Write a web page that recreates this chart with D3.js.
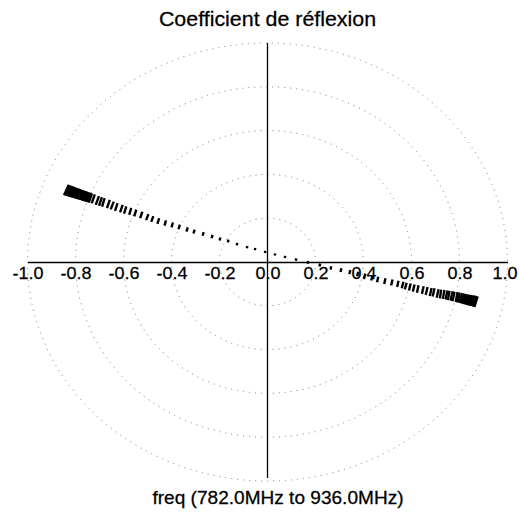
<!DOCTYPE html>
<html>
<head>
<meta charset="utf-8">
<script src="https://cdn.jsdelivr.net/npm/d3@7"></script>
<style>
  body { margin: 0; background: #fff; }
  text { font-family: "Liberation Sans", Arial, sans-serif; }
</style>
</head>
<body>
<div id="content"></div>
<script>
var gammaRe = [-0.838,-0.832,-0.825,-0.819,-0.813,-0.807,-0.800,-0.794,-0.788,-0.782,-0.775,-0.769,-0.763,-0.757,-0.751,-0.744,
  -0.738,-0.726,-0.709,-0.696,-0.684,-0.663,-0.647,-0.630,-0.609,-0.593,-0.572,-0.551,-0.526,-0.501,-0.480,-0.455,-0.426,-0.397,
  -0.368,-0.335,-0.306,-0.268,-0.231,-0.198,-0.164,-0.127,-0.085,-0.052,-0.010,0.031,0.073,0.119,0.168,0.218,0.264,0.306,0.343,
  0.376,0.405,0.435,0.459,0.489,0.518,0.543,0.563,0.576,0.593,0.609,0.626,0.647,0.663,0.680,0.692,0.709,0.721,0.734,0.746,0.755,
  0.767,0.775,0.788,0.796,0.805,0.813,0.819,0.825,0.832,0.838,0.844,0.850,0.857,0.863,0.869];
var gammaIm = [0.329,0.326,0.324,0.322,0.320,0.317,0.315,0.313,0.311,0.308,0.306,0.304,0.301,0.299,0.297,0.295,
  0.292,0.288,0.281,0.276,0.272,0.265,0.258,0.251,0.244,0.237,0.231,0.224,0.215,0.205,0.196,0.187,0.178,0.169,
  0.160,0.148,0.139,0.128,0.116,0.105,0.096,0.082,0.068,0.059,0.046,0.034,0.023,0.011,-0.002,-0.014,-0.027,-0.037,-0.046,
  -0.055,-0.064,-0.073,-0.080,-0.087,-0.094,-0.100,-0.105,-0.110,-0.114,-0.119,-0.123,-0.128,-0.132,-0.137,-0.139,-0.144,-0.146,-0.148,-0.151,-0.153,
  -0.155,-0.158,-0.160,-0.162,-0.164,-0.167,-0.169,-0.170,-0.172,-0.174,-0.175,-0.176,-0.178,-0.179,-0.181];

var ringRadii = [0.2, 0.4, 0.6, 0.8, 1.0];
var tickVals = [-1.0,-0.8,-0.6,-0.4,-0.2,0.0,0.2,0.4,0.6,0.8,1.0];
var titleText = "Coefficient de réflexion";
var xLabelText = "freq (782.0MHz to 936.0MHz)";

var width = 519, height = 517;

var svg = d3.select("#content")
  .append("svg")
  .attr("width", width)
  .attr("height", height);

var xScale = d3.scaleLinear().domain([-1, 1]).range([27.5, 507.5]);
var yScale = d3.scaleLinear().domain([-1, 1]).range([481, 43]);
var cx = xScale(0), cy = yScale(0);

// dotted rings
svg.selectAll(".ring")
  .data(ringRadii)
  .join("ellipse")
    .attr("class", "ring")
    .attr("cx", cx)
    .attr("cy", cy)
    .attr("rx", d => xScale(d) - cx)
    .attr("ry", d => cy - yScale(d))
    .attr("fill", "none")
    .attr("stroke", "#777")
    .attr("stroke-width", 1)
    .attr("stroke-dasharray", "1,5");

// vertical axis
svg.append("line")
  .attr("x1", cx).attr("x2", cx)
  .attr("y1", yScale(1)).attr("y2", yScale(-1) - 3)
  .attr("stroke", "#000")
  .attr("stroke-width", 1.3);

// horizontal axis
var x_axis = d3.axisBottom(xScale)
  .tickValues(tickVals)
  .tickSize(0)
  .tickPadding(5)
  .tickFormat(d => d.toFixed(1));

var gx = svg.append("g")
  .attr("transform", "translate(0," + cy + ")")
  .call(x_axis);
gx.select(".domain").attr("stroke", "#000").attr("stroke-width", 1.3);
// the scan is a bit wider than tall, so stretch labels a touch
// (last label pulled in a bit so it stays inside the page)
gx.selectAll(".tick text")
  .attr("fill", "#000")
  .attr("stroke", "#000")
  .attr("stroke-width", 0.25)
  .style("font-size", "17px")
  .attr("transform", d => (d === 1 ? "translate(-3,0) " : "") + "scale(1.06,1)");

// the trace: short dashes across the path, bigger when |gamma| is big
var pts = gammaRe.map((r, i) => ({re: r, im: gammaIm[i], px: xScale(r), py: yScale(gammaIm[i])}));
var sizeScale = d3.scalePow().exponent(1.5).domain([0, 1]).range([2, 13]);

pts.forEach(function(d, i) {
  var a = pts[Math.max(0, i - 1)], b = pts[Math.min(pts.length - 1, i + 1)];
  d.angle = Math.atan2(b.py - a.py, b.px - a.px) * 180 / Math.PI;
  d.h = sizeScale(Math.sqrt(d.re * d.re + d.im * d.im));
});

svg.selectAll(".mark")
  .data(pts)
  .join("rect")
    .attr("class", "mark")
    .attr("x", -1.2)
    .attr("width", 2.4)
    .attr("y", d => -d.h / 2)
    .attr("height", d => d.h)
    .attr("fill", "#000")
    .attr("transform", d => "translate(" + d.px + "," + d.py + ") rotate(" + d.angle + ")");

// title and bottom label
svg.append("text")
  .attr("transform", "translate(" + cx + ",26) scale(1.07,1)")
  .attr("text-anchor", "middle")
  .attr("stroke", "#000")
  .attr("stroke-width", 0.25)
  .style("font-size", "20px")
  .text(titleText);

svg.append("text")
  .attr("transform", "translate(278,504) scale(1.06,1)")
  .attr("text-anchor", "middle")
  .attr("stroke", "#000")
  .attr("stroke-width", 0.25)
  .style("font-size", "18px")
  .text(xLabelText);
</script>
</body>
</html>
